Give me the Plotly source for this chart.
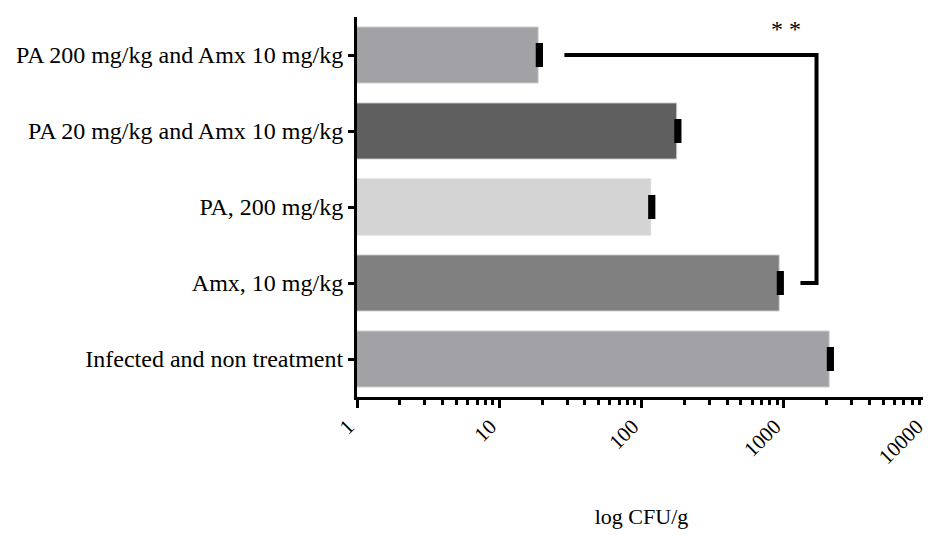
import numpy as np
import plotly.graph_objects as go

categories = ["Infected and non treatment", "Amx, 10 mg/kg", "PA, 200 mg/kg",
              "PA 20 mg/kg and Amx 10 mg/kg", "PA 200 mg/kg and Amx 10 mg/kg"]
values = [2090, 930, 116, 177, 18.8]
errors_plus = [75, 33, 4.2, 6.4, 0.7]
errors_minus = [0, 0, 0, 0, 0]
colors = ["#a2a1a6", "#808080", "#d4d4d4", "#5f5f5f", "#a2a1a6"]
tick_vals = [1, 10, 100, 1000, 10000]
tick_text = ["1", "10", "100", "1000", "10000"]

# significance bracket (between Amx and PA 200 + Amx)
bracket_x = [28.7, 1700, 1700, 1310]
bracket_y = [categories[4], categories[4], categories[1], categories[1]]
star_x = 1030
star_text = "* *"

font_family = "Liberation Serif"

fig = go.Figure()
fig.add_trace(go.Bar(
    y=categories, x=values, orientation="h",
    marker=dict(color=colors, line=dict(color="#d8d8d8", width=1)),
    error_x=dict(type="data", symmetric=False, array=errors_plus,
                 arrayminus=errors_minus, visible=True, color="black",
                 thickness=5, width=12),
    showlegend=False,
))
fig.add_trace(go.Scatter(
    x=bracket_x, y=bracket_y, mode="lines",
    line=dict(color="black", width=4), showlegend=False, hoverinfo="skip",
))
fig.add_annotation(x=np.log10(star_x), y=4.34, text=star_text, showarrow=False,
                   font=dict(family=font_family, size=24, color="black"),
                   xref="x", yref="y")

# page body has an 8px margin, so the figure is sized/offset to compensate
fig.update_layout(
    width=923, height=521,
    margin=dict(l=349, r=5, t=9, b=132),
    plot_bgcolor="white", paper_bgcolor="white",
    bargap=0.26,
    font=dict(family=font_family, color="black"),
    xaxis=dict(
        type="log", range=[0, 4.0001], automargin=False,
        tickvals=tick_vals, ticktext=tick_text, tickangle=-45,
        ticklabeloverflow="allow", ticklabelshift=-9, ticklabelstandoff=-2,
        tickfont=dict(size=21, family=font_family),
        ticks="outside", ticklen=8, tickwidth=3, tickcolor="black",
        showline=True, linecolor="black", linewidth=3,
        showgrid=False, zeroline=False,
        minor=dict(ticks="outside", ticklen=5, tickwidth=3, tickcolor="black",
                   dtick="D1", showgrid=False),
        title=dict(text="log CFU/g", font=dict(size=22, family=font_family), standoff=64),
    ),
    yaxis=dict(
        type="category", categoryorder="array", categoryarray=categories,
        range=[-0.5, 4.5], automargin=False,
        tickfont=dict(size=24, family=font_family),
        ticks="outside", ticklen=6, tickwidth=3, tickcolor="black",
        showline=True, linecolor="black", linewidth=3,
        showgrid=False, zeroline=False,
    ),
)

fig.write_html("out.html")
